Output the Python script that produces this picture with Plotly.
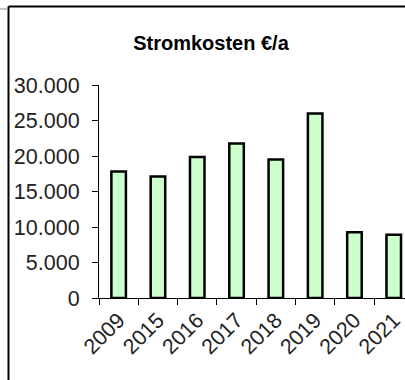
"""
Stromkosten pro Jahr als Säulendiagramm.
"""

import plotly.graph_objects as go

jahre = ["2009", "2015", "2016", "2017", "2018", "2019", "2020", "2021"]
kosten = [17800, 17100, 19850, 21750, 19500, 26000, 9270, 8900]
y_ticks = [0, 5000, 10000, 15000, 20000, 25000, 30000]
y_labels = ["0", "5.000", "10.000", "15.000", "20.000", "25.000", "30.000"]

# Pixelmaße des Bildes (405 x 380)
W, H = 405, 380
links, rechts, oben, unten = 99, 0, 85, 82
plot_w = W - links - rechts
plot_h = H - oben - unten
kat_breite = 39.3  # px je Kategorie


def px_x(x):
    return (x - links) / plot_w


def px_y(y):
    return (H - unten - y) / plot_h


fig = go.Figure()
fig.add_trace(go.Bar(
    x=jahre, y=kosten,
    width=0.37,
    marker=dict(color="#CCFFCC", line=dict(color="#000000", width=2.5)),
))

schrift = dict(family="Liberation Sans", size=21.5, color="#222222")

fig.update_xaxes(
    range=[-0.5, -0.5 + plot_w / kat_breite],
    showline=True, linecolor="#000000", linewidth=1.2,
    ticks="outside", tickson="boundaries", ticklen=6, tickcolor="#000000",
    tickangle=-45, tickfont=schrift,
    showgrid=False, zeroline=False,
)
fig.update_yaxes(
    range=[0, 30000],
    tickvals=y_ticks, ticktext=y_labels,
    showline=True, linecolor="#000000", linewidth=1.2,
    ticks="outside", ticklen=6, tickcolor="#000000",
    tickfont=schrift, ticklabelstandoff=8,
    showgrid=False, zeroline=False,
)

# Rahmen links/oben
fig.add_shape(type="line", xref="paper", yref="paper",
              x0=px_x(8.5), x1=px_x(8.5), y0=px_y(6.5), y1=px_y(H + 5),
              line=dict(color="#000000", width=2))
fig.add_shape(type="line", xref="paper", yref="paper",
              x0=px_x(8.5), x1=px_x(W + 5), y0=px_y(6.5), y1=px_y(6.5),
              line=dict(color="#000000", width=2))
fig.add_shape(type="line", xref="paper", yref="paper",
              x0=px_x(-5), x1=px_x(8), y0=px_y(9), y1=px_y(9),
              line=dict(color="#888888", width=1))

fig.update_layout(
    width=W, height=H,
    margin=dict(l=links, r=rechts, t=oben, b=unten, pad=0),
    title=dict(text="<b>Stromkosten €/a</b>", x=211 / W, xanchor="center",
               y=1 - 43 / H, yanchor="middle",
               font=dict(family="Liberation Sans", size=20, color="#000000")),
    plot_bgcolor="#FFFFFF", paper_bgcolor="#FFFFFF",
    showlegend=False, bargap=0.6,
)

# Standardrand des Browsers entfernen, damit die Grafik bei (0, 0) beginnt
fig.write_html("out.html", config={"displayModeBar": False},
               post_script="document.body.style.margin = '0';")
